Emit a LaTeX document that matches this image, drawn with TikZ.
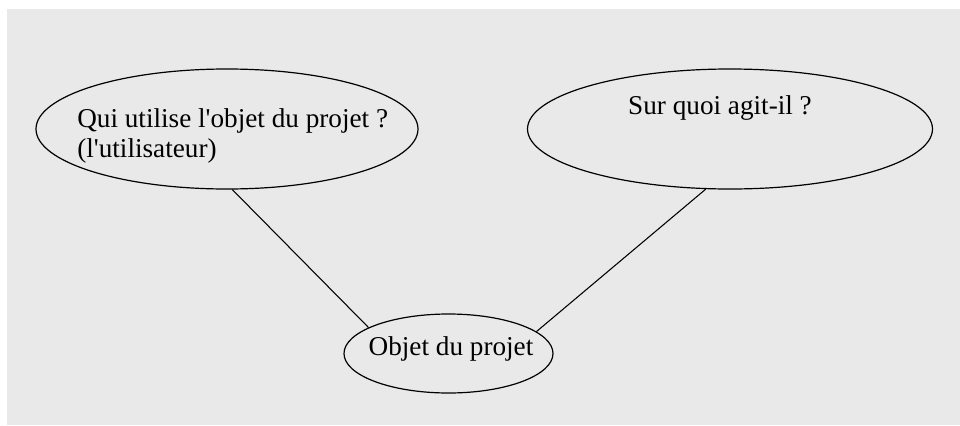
\documentclass[tikz,border=0pt]{standalone}
\usepackage{fontspec}
\setmainfont{Liberation Serif}[Ligatures=TeXOff]
\usepackage{xcolor}
\usetikzlibrary{shapes.geometric}

\definecolor{paper}{RGB}{233,233,233}

\tikzset{
  bubble/.style={draw, ellipse, line width=0.9pt, inner sep=0pt},
  lbl/.style={inner sep=0pt, font=\fontsize{20.4pt}{22.5pt}\selectfont},
  link/.style={line width=0.8pt}
}

\begin{document}
\begin{tikzpicture}[x=0.75pt,y=0.75pt,yscale=-1,xscale=1]
%Background
\fill[white] (0,0) rectangle (960,425);
\fill[paper] (7,9) rectangle (960,425);

%Shape: Ellipse [user]
\node[bubble, minimum width=286.5pt, minimum height=90pt] (user) at (227,129) {};
%Shape: Ellipse [acts on]
\node[bubble, minimum width=303.75pt, minimum height=90pt] (act) at (730,129) {};
%Shape: Ellipse [object]
\node[bubble, minimum width=156.75pt, minimum height=59.25pt] (obj) at (448.5,353.5) {};

%Straight Lines
\draw[link] (user.-85) -- (obj.162);
%Straight Lines
\draw[link] (act.-112) -- (obj.14);

% Text Node
\node[lbl, anchor=west, align=left] (usertxt) at (77,135.5) {Qui utilise l'objet du projet ?\\(l'utilisateur)};
% Text Node
\node[lbl] (acttxt) at (720,108) {Sur quoi agit-il ?};
% Text Node
\node[lbl] (objtxt) at (451,348.5) {Objet du projet};
\end{tikzpicture}
\end{document}
